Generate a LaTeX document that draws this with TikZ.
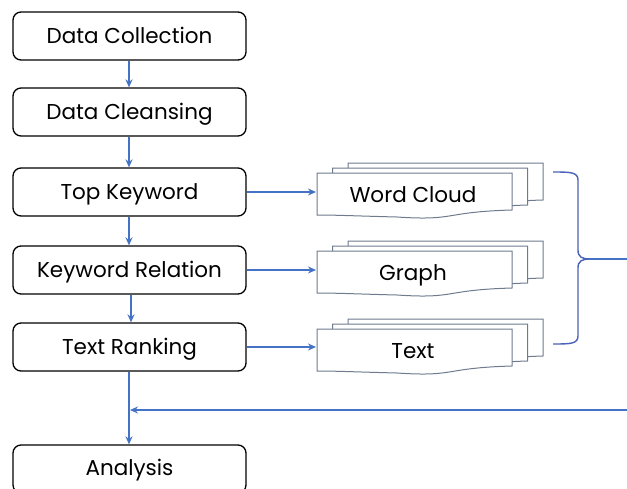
\documentclass[tikz,border=0pt]{standalone}
\usepackage{fontspec}
\setmainfont{Poppins}
\usetikzlibrary{arrows.meta}
\definecolor{flowblue}{HTML}{4472C4}
\definecolor{bracecol}{HTML}{4A62B8}
\definecolor{docline}{HTML}{6F7A8E}
\tikzset{
  x=1pt, y=-1pt,
  stepbox/.style={draw=black, line width=1.3pt, rounded corners=8pt, fill=white,
    minimum width=233pt, minimum height=48pt, inner sep=0pt},
  steptext/.style={inner sep=0pt, text height=15.4pt, text depth=0pt, font=\fontsize{21.5}{25}\selectfont},
  flow/.style={draw=flowblue, line width=1.5pt, -{Stealth[length=8pt,width=7pt]}},
  docsheet/.style={draw=docline, line width=1pt, fill=white},
}
% one sheet of a document stack: top-left corner at (#1,#2)
\newcommand{\docsheetat}[2]{%
  \draw[docsheet] (#1,#2) -- ++(195,0) -- ++(0,37)
    .. controls ++(-70,2) and ++(60,4) .. ++(-115,7)
    .. controls ++(-40,-1) and ++(20,0) .. ++(-80,-2) -- cycle;}
\begin{document}
\begin{tikzpicture}
\clip (0,0) rectangle (627,488);
\fill[white] (0,0) rectangle (627,488);

% process steps
\node[stepbox] (s1) at (129.5,36) {};
\node[stepbox] (s2) at (129.5,112) {};
\node[stepbox] (s3) at (129.5,192) {};
\node[stepbox] (s4) at (129.5,270) {};
\node[stepbox] (s5) at (129.5,347) {};
\node[stepbox] (s6) at (129.5,469) {};
\node[steptext] (t1) at (129.5,36) {Data Collection};
\node[steptext] (t2) at (129.5,112) {Data Cleansing};
\node[steptext] (t3) at (129.5,192) {Top Keyword};
\node[steptext] (t4) at (129.5,270) {Keyword Relation};
\node[steptext] (t5) at (129.5,347) {Text Ranking};
\node[steptext] (t6) at (129.5,468) {Analysis};

% document stacks
\foreach \dy/\name/\txt in {0/d1/Word Cloud, 78/d2/Graph, 156/d3/Text}{
  \docsheetat{348}{163+\dy}
  \docsheetat{332.5}{168+\dy}
  \docsheetat{317}{173+\dy}
  \node[steptext] (\name) at (413,195+\dy) {\txt};
}
\coordinate (d1w) at (316,192);
\coordinate (d2w) at (316,270);
\coordinate (d3w) at (316,347);

% vertical flow
\draw[flow] ([xshift=-0.5pt]s1.south) -- ([xshift=-0.5pt]s2.north);
\draw[flow] ([xshift=-0.5pt]s2.south) -- ([xshift=-0.5pt]s3.north);
\draw[flow] ([xshift=-0.5pt]s3.south) -- ([xshift=-0.5pt]s4.north);
\draw[flow] ([xshift=1.5pt]s4.south) -- ([xshift=1.5pt]s5.north);
\draw[flow] ([xshift=-0.5pt]s5.south) -- ([xshift=-0.5pt]s6.north);

% outputs
\draw[flow] (s3.east) -- (d1w);
\draw[flow] (s4.east) -- (d2w);
\draw[flow] (s5.east) -- (d3w);

% brace gathering the outputs
\coordinate (bt) at (553,172);
\coordinate (bb) at (553,344);
\coordinate (bout) at (627,259);
\draw[bracecol, line width=1.4pt]
  (bt) .. controls (570,172) and (578,172) .. (578,180) -- (578,250)
  .. controls (578,257) and (582,259) .. (590,259);
\draw[bracecol, line width=1.4pt]
  (bb) .. controls (570,344) and (578,344) .. (578,336) -- (578,268)
  .. controls (578,261) and (582,259) .. (590,259);
\draw[flowblue, line width=1.4pt] (588,259) -- (bout);

% feedback into the analysis step
\coordinate (fb) at (627,410);
\coordinate (fbend) at (130,410);
\draw[flow] (fb) -- (fbend);
\end{tikzpicture}
\end{document}
